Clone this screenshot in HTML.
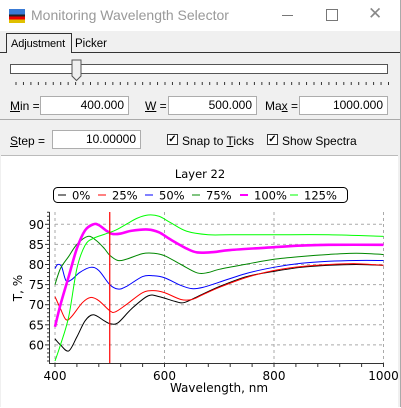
<!DOCTYPE html>
<html><head><meta charset="utf-8"><style>
body{margin:0;width:401px;height:407px;overflow:hidden;background:#fff;font-family:"Liberation Sans",sans-serif;font-size:12px;position:relative}
.abs{position:absolute}
.box{position:absolute;background:#fff;border:1px solid #adadad;text-align:right;box-sizing:border-box;padding-right:4px;line-height:16px;font-size:12px}
.lbl{position:absolute;font-size:12px}
.cb{position:absolute;width:11px;height:11px;border:1px solid #333;background:#fff;box-sizing:border-box;font-size:10px;line-height:9px;text-align:center;font-weight:bold}
</style></head><body>
<div class="abs" style="left:0;top:0;width:400px;height:407px;border-right:1px solid #aaa;background:#f0f0f0"></div>
<div class="abs" style="left:0;top:0;width:400px;height:31px;background:#fff">
 <div class="abs" style="left:9px;top:9px;width:16px;height:14px;background:linear-gradient(#3a7bd5 0 40%,#222 40% 55%,#e00 55% 75%,#e0c000 75%)"></div>
 <div class="abs" style="left:31px;top:7px;font-size:14px;color:#999">Monitoring Wavelength Selector</div>
 <div class="abs" style="left:282px;top:15px;width:11px;height:1px;background:#777"></div>
 <div class="abs" style="left:326px;top:9px;width:10px;height:10px;border:1px solid #777"></div>
 <div class="abs" style="left:368px;top:4px;font-size:17px;color:#888">✕</div>
</div>
<div class="abs" style="left:6px;top:33px;width:66px;height:20px;border:1px solid #333;border-bottom:none;background:#f0f0f0;line-height:20px;padding-left:4px;box-sizing:border-box;font-size:11px;letter-spacing:-0.1px;white-space:nowrap">Adjustment</div>
<div class="abs" style="left:75px;top:36px;line-height:16px;font-size:11.5px">Picker</div>
<div class="abs" style="left:0;top:52px;width:400px;height:1px;background:#333"></div>
<div class="abs" style="left:7px;top:52px;width:64px;height:1px;background:#f0f0f0"></div>
<div class="abs" style="left:10px;top:64px;width:378px;height:10px;background:#fff;border:1px solid #555;box-sizing:border-box"></div>
<svg class="abs" style="left:0;top:55px" width="401" height="35">
 <g stroke="#333" id="sticks"></g>
 <path d="M72,5 h9 v16 l-4.5,4.5 l-4.5,-4.5 z" fill="#f0f0f0" stroke="#555"/>
</svg>
<div class="lbl" style="left:10px;top:99px"><u>M</u>in =</div>
<div class="box" style="left:40px;top:96px;width:89px;height:19px">400.000</div>
<div class="lbl" style="left:145px;top:99px"><u>W</u> =</div>
<div class="box" style="left:168px;top:96px;width:89px;height:19px">500.000</div>
<div class="lbl" style="left:265px;top:99px">Ma<u>x</u> =</div>
<div class="box" style="left:299px;top:96px;width:89px;height:19px">1000.000</div>
<div class="abs" style="left:0;top:119px;width:400px;height:1px;background:#aaa"></div>
<div class="lbl" style="left:10px;top:134px"><u>S</u>tep =</div>
<div class="box" style="left:52px;top:130px;width:89px;height:19px">10.00000</div>
<div class="cb" style="left:167px;top:134px">✓</div>
<div class="lbl" style="left:182px;top:134px">Snap to <u>T</u>icks</div>
<div class="cb" style="left:267px;top:134px">✓</div>
<div class="lbl" style="left:282px;top:134px">Show Spectra</div>
<div class="abs" style="left:1px;top:155px;width:397px;height:252px;background:#fff;border-top:1px solid #bbb"></div>
<svg class="abs" style="left:0;top:0" width="401" height="407" id="chart" font-family="DejaVu Sans, sans-serif"></svg>
<script>
const categories=["0%","25%","50%","75%","100%","125%"];
const colors=["#000","#f00","#00f","#080","#f0f","#0f0"];
const widths=[1,1,1,1,2.6,1];
const s0=[[400,61.5],[410,60],[425,58.5],[440,62],[455,66],[470,67.5],[490,66],[500,65.3],[515,65.5],[540,69],[570,72.2],[590,72],[620,70.8],[635,70.5],[660,72],[700,74.5],[750,77],[800,78.3],[850,79.3],[900,79.8],[950,80],[1000,79.8]];
const s1=[[400,72],[410,69],[420,66.3],[430,67],[450,70.5],[465,71.8],[480,71],[500,68.5],[510,68.2],[530,70],[560,73],[580,73.5],[600,73],[630,71.3],[650,71.3],[670,72.5],[700,74.3],[750,76.8],[800,78.5],[850,79.5],[900,80],[950,80.2],[1000,79.8]];
const s2=[[400,79],[405,80],[412,79.5],[420,76],[430,76.2],[445,78],[465,79.3],[480,78.5],[500,75],[515,73.9],[530,74.5],[560,77],[580,77.2],[600,76.7],[630,74.8],[650,74],[670,74.3],[700,75.6],[750,77.8],[800,79.3],[850,80.3],[900,80.8],[950,81],[1000,81]];
const s3=[[400,75],[410,79],[425,82],[440,85],[460,87],[475,86],[490,84],[500,82.3],[515,81],[530,81.3],[560,82.7],[580,82.8],[600,82.2],[630,80],[660,77.9],[680,78],[700,78.8],[750,80.1],[800,81.3],[850,82],[900,82.5],[950,82.8],[1000,82.5]];
const s4=[[400,64.5],[410,70],[425,77],[440,84],[455,88.5],[470,90],[480,89.8],[495,88.3],[505,87.6],[520,87.7],[540,88.4],[570,88.7],[590,88],[610,86.3],[640,84],[660,83],[690,83.1],[720,83.6],[800,84.3],[850,84.7],[900,84.9],[1000,84.9]];
const s5=[[400,56],[410,60],[425,67],[440,79],[455,84.8],[470,86.5],[490,87.5],[510,88.5],[530,90],[550,91.5],[570,92.3],[590,92],[610,90.5],[640,88.3],[680,87.4],[720,87.4],[800,87.4],[900,87.4],[1000,87]];
const series=[s0,s1,s2,s3,s4,s5];
const xTicks=[400,600,800,1000];
const yTicks=[60,65,70,75,80,85,90];
const marker=500;
const NS="http://www.w3.org/2000/svg";
const X=v=>55+(v-400)*0.5475, Y=v=>224.3-(v-90)*4.02;
const svg=document.getElementById('chart');
function mk(t,a,p){const e=document.createElementNS(NS,t);for(const k in a)e.setAttribute(k,a[k]);(p||svg).appendChild(e);return e;}
const st=document.getElementById('sticks');
for(let i=0;i<=50;i++){const x=16+i*7.45;const e=mk('line',{x1:x,x2:x,y1:27,y2:30},st);}
const t=mk('text',{x:200,y:178,'text-anchor':'middle','font-size':11.5});t.textContent='Layer 22';

const lg=mk('rect',{x:53.5,y:187.5,width:294,height:15,rx:4,fill:'#fff',stroke:'#000'});

const lx=[58,98,145,192,240,290];
categories.forEach((c,i)=>{
 const g=mk('g',{});
 
 mk('line',{x1:lx[i],x2:lx[i]+8,y1:195,y2:195,stroke:colors[i],'stroke-width':widths[i]>1?2:1},g);
 const tt=mk('text',{x:lx[i]+14,y:199.5,'font-size':11.5},g);tt.textContent=c;
});
yTicks.forEach(v=>{const e=mk('line',{x1:55,x2:383,y1:Y(v),y2:Y(v),stroke:'#aaa','stroke-dasharray':'3,3'});});
xTicks.forEach(v=>{const e=mk('line',{x1:X(v),x2:X(v),y1:212,y2:363,stroke:'#aaa','stroke-dasharray':'3,3'});});
const ya=mk('line',{x1:49.5,x2:49.5,y1:212,y2:363,stroke:'#333'});
const xa=mk('line',{x1:49,x2:384,y1:363.5,y2:363.5,stroke:'#333'});
for(let v=56;v<=93;v++){const e=mk('line',{x1:v%5?47:45,x2:49.5,y1:Y(v),y2:Y(v),stroke:'#333'});}
for(let v=400;v<=1000;v+=40){const e=mk('line',{x1:X(v),x2:X(v),y1:363,y2:367,stroke:'#333'});}
yTicks.forEach(v=>{const e=mk('text',{x:44,y:Y(v)+4.5,'text-anchor':'end','font-size':12});e.textContent=v;});
xTicks.forEach(v=>{const e=mk('text',{x:X(v),y:380,'text-anchor':'middle','font-size':12});e.textContent=v;});
const xt=mk('text',{x:219,y:392,'text-anchor':'middle','font-size':12});xt.textContent='Wavelength, nm';
const yt=mk('text',{x:22,y:288,'text-anchor':'middle','font-size':12,transform:'rotate(-90 22 288)'});yt.textContent='T, %';
function path(pts){const p=pts.map(d=>[X(d[0]),Y(d[1])]);let s='M'+p[0][0]+','+p[0][1];
 for(let i=0;i<p.length-1;i++){const a=p[i-1]||p[i],b=p[i],c=p[i+1],d=p[i+2]||c;
  s+=` C${b[0]+(c[0]-a[0])/6},${b[1]+(c[1]-a[1])/6} ${c[0]-(d[0]-b[0])/6},${c[1]-(d[1]-b[1])/6} ${c[0]},${c[1]}`;}return s;}
series.forEach((s,i)=>{const e=mk('path',{d:path(s),fill:'none',stroke:colors[i],'stroke-width':widths[i]});
 });
const m=mk('line',{x1:X(marker),x2:X(marker),y1:212,y2:363,stroke:'#f00','stroke-width':1.2});

</script>
</body></html>
